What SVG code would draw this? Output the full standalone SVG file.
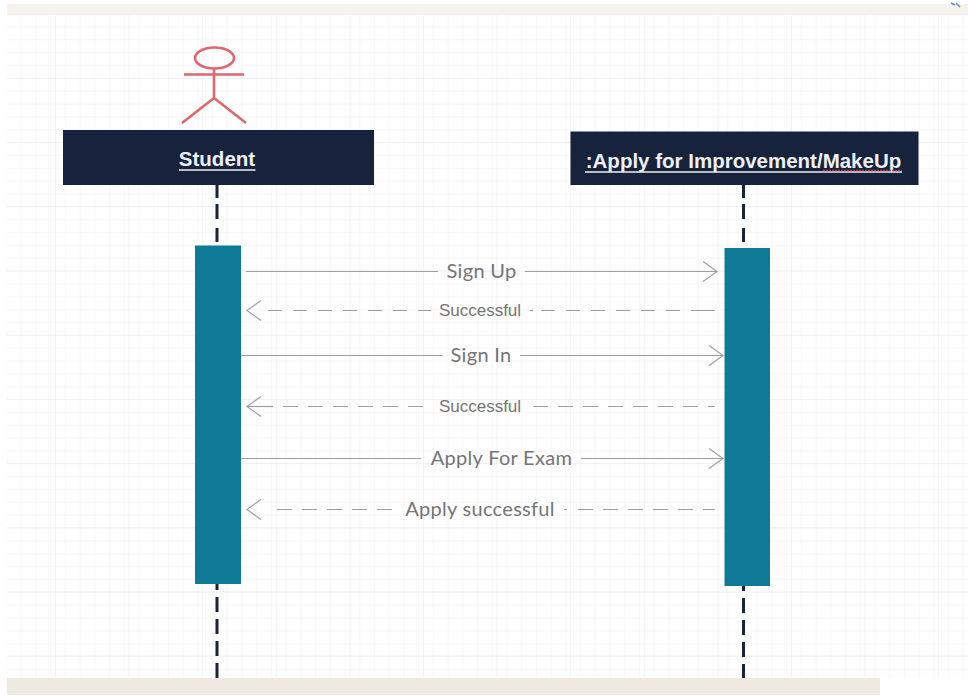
<svg xmlns="http://www.w3.org/2000/svg" width="968" height="696" viewBox="0 0 968 696">
<defs>
<pattern id="minor" x="7" y="14.6" width="14.72" height="12.85" patternUnits="userSpaceOnUse">
<path d="M14.72 0V12.85M0 12.85H14.72" fill="none" stroke="#f1f2f4" stroke-width="1"/>
</pattern>
<pattern id="major" x="-17.6" y="14.6" width="73.6" height="64.2" patternUnits="userSpaceOnUse">
<path d="M73.6 0V64.2M0 64.2H73.6" fill="none" stroke="#e6e8ec" stroke-width="1"/>
</pattern>
<marker id="open" markerUnits="userSpaceOnUse" markerWidth="20" markerHeight="24" refX="15" refY="11" orient="auto-start-reverse" overflow="visible">
<path d="M1 1L15 11L1 21" fill="none" stroke="#a0a2a4" stroke-width="1.2"/>
</marker>
</defs>
<style>
.msg{stroke:#9c9ea0;stroke-width:1.2;fill:none}
.ret{stroke-dasharray:15 10}
.tip{stroke:none}
.life{stroke:#1a2338;stroke-width:3;fill:none}
.upper{stroke-dasharray:13 6 15 9 15}
.lower{stroke-dasharray:15 7}
.head{fill:#17233d}
.act{fill:#0f7a97}
.hl{font-family:"Liberation Sans",Arial,sans-serif;font-size:20.500px;font-weight:700;fill:#eef0f3;text-anchor:middle}
.lab{font-family:Lato,"Liberation Sans",sans-serif;font-size:20px;fill:#737577;text-anchor:middle;letter-spacing:.3px}
.small{font-family:"Liberation Sans",Arial,sans-serif;font-size:17px;fill:#737577;text-anchor:middle}
.actor{fill:none;stroke:#e0666f;stroke-width:2.600}
</style>
<rect width="968" height="696" fill="#ffffff"/>
<rect x="7" y="15" width="961" height="663" fill="#fefefe"/>
<rect x="7" y="15" width="961" height="663" fill="url(#minor)"/>
<rect x="7" y="15" width="961" height="663" fill="url(#major)"/>
<rect x="7" y="4" width="961" height="11" fill="#f6f3ee"/>
<rect x="7" y="678" width="873" height="17" fill="#efe9e2"/>
<g id="connectors">
<path class="life upper" d="M217 185V242"/>
<path class="life lower" d="M217 575V678"/>
<path class="life upper" d="M743.500 185V242"/>
<path class="life lower" d="M743.500 576V678"/>
<path class="msg" d="M246 271.500H438M525 271.500H717" marker-end="url(#open)"/>
<path class="msg tip" d="M247 310.500H262" marker-start="url(#open)"/>
<path class="msg" style="stroke-dasharray:14 11" d="M268 310.500H431"/>
<path class="msg" style="stroke-dasharray:14 11 14 11 14 11 14 11 14 11 14 11 24 0" d="M541 310.500H715"/>
<path class="msg" d="M530 310.500H533"/>
<path class="msg" d="M240 355.500H443M520 355.500H723" marker-end="url(#open)"/>
<path class="msg" d="M247 406.500H273" marker-start="url(#open)"/>
<path class="msg ret" d="M283 406.500H423"/>
<path class="msg ret" d="M533 406.500H715"/>
<path class="msg" d="M240 458.500H421M581 458.500H723" marker-end="url(#open)"/>
<path class="msg tip" d="M247 509.500H262" marker-start="url(#open)"/>
<path class="msg ret" d="M277 509.500H392"/>
<path class="msg" d="M564 509.500H567"/>
<path class="msg ret" d="M578 509.500H715"/>
</g>
<g id="actor">
<ellipse class="actor" cx="214.500" cy="58" rx="19.500" ry="10.500"/>
<path class="actor" d="M214 68V98M184 74.500H244M214 98L182 123M214 98L246 123"/>
</g>
<g id="student-head">
<rect class="head" x="63" y="130" width="311" height="55"/>
<text class="hl" x="217" y="166">Student</text>
<path d="M179 170H255.500" stroke="#eef0f3" stroke-width="1.500"/>
</g>
<g id="apply-head">
<rect class="head" x="570.500" y="131.500" width="348" height="53.500"/>
<text class="hl" x="743.500" y="168">:Apply for Improvement/MakeUp</text>
<path d="M585 172H902" stroke="#eef0f3" stroke-width="1.500"/>
<path d="M823 170.500H902" stroke="#b8344f" stroke-width="1.500" stroke-dasharray="2 1"/>
</g>
<g id="student-activation"><rect class="act" x="195" y="245.500" width="46" height="338.500"/></g>
<g id="apply-activation"><rect class="act" x="724.500" y="248" width="45.500" height="338"/></g>
<g id="labels">
<text class="lab" x="481.500" y="278">Sign Up</text>
<text class="small" x="480" y="315.500">Successful</text>
<text class="lab" x="481" y="361.500">Sign In</text>
<text class="small" x="480" y="411.500">Successful</text>
<text class="lab" x="501.500" y="464.500">Apply For Exam</text>
<text class="lab" x="480" y="515.500">Apply successful</text>
</g>
<path d="M951 3L955 5M956 3L960 7" stroke="#5b8fc0" stroke-width="1.500" fill="none"/>
</svg>
